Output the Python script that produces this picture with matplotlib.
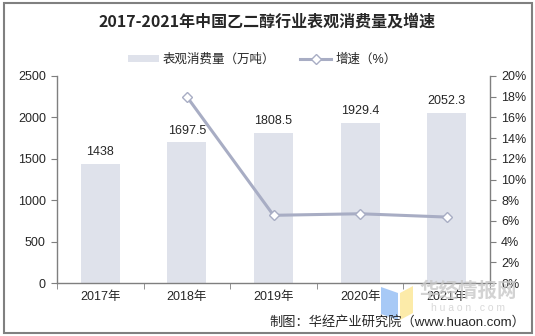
import matplotlib
matplotlib.use("Agg")
import matplotlib.pyplot as plt
from matplotlib.patches import Rectangle, Polygon
from matplotlib.lines import Line2D
from matplotlib.patches import Patch

plt.rcParams['font.family'] = ['Liberation Sans', 'Noto Sans CJK SC', 'DejaVu Sans']

categories = ['2017年', '2018年', '2019年', '2020年', '2021年']
consumption = [1438, 1697.5, 1808.5, 1929.4, 2052.3]
consumption_labels = ['1438', '1697.5', '1808.5', '1929.4', '2052.3']
growth_years = ['2018年', '2019年', '2020年', '2021年']
growth = [18.0, 6.54, 6.69, 6.37]

bar_color = '#DFE2EB'
line_color = '#A8ADC4'
text_color = '#262626'

W, H = 535, 336
fig = plt.figure(figsize=(W / 100, H / 100), dpi=100)
ax = fig.add_axes([57 / W, (H - 283) / H, (490 - 57) / W, (283 - 76) / H])
ax2 = ax.twinx()

x = list(range(len(categories)))
ax.bar(x, consumption, width=0.45, color=bar_color, zorder=1)
for xi, v, lab in zip(x, consumption, consumption_labels):
    ax.text(xi, v + 70, lab, ha='center', va='bottom', fontsize=9, color=text_color)

gx = [categories.index(c) for c in growth_years]
ax2.plot(gx, growth, color=line_color, lw=2.2, marker='D', markersize=5.5,
         markerfacecolor='white', markeredgecolor=line_color, markeredgewidth=1,
         zorder=3)

ax.set_xlim(-0.5, len(categories) - 0.5)
ax.set_ylim(0, 2500)
ax.set_yticks(range(0, 2501, 500))
ax2.set_ylim(0, 20)
ax2.set_yticks(range(0, 21, 2))
ax2.set_yticklabels([f'{v}%' for v in range(0, 21, 2)])

ax.set_xticks(x)
ax.set_xticklabels(categories)
ax.set_xticks([i - 0.5 for i in range(len(categories) + 1)], minor=True)
ax.tick_params(axis='x', which='major', length=0, pad=6, labelsize=9, labelcolor=text_color)
ax.tick_params(axis='x', which='minor', length=4, color='#7f7f7f', direction='out')
ax.tick_params(axis='y', length=4, color='#7f7f7f', labelsize=9, labelcolor=text_color, pad=4)
ax2.tick_params(axis='y', length=4, color='#7f7f7f', labelsize=9, labelcolor=text_color, pad=4)

for a in (ax, ax2):
    a.spines['top'].set_visible(False)
    for s in ('left', 'right', 'bottom'):
        a.spines[s].set_color('#7f7f7f')
        a.spines[s].set_linewidth(1)
ax.spines['right'].set_visible(False)
ax2.spines['left'].set_visible(False)
ax2.spines['bottom'].set_visible(False)
ax.set_zorder(ax2.get_zorder() - 1)
ax2.patch.set_visible(False)

fig.text(0.5, (H - 22) / H, '2017-2021年中国乙二醇行业表观消费量及增速', ha='center', va='center',
         fontsize=11.5, fontweight='bold', color=text_color,
         family=['Noto Sans CJK SC', 'DejaVu Sans'])

handles = [Patch(facecolor=bar_color, edgecolor='none'),
           Line2D([0], [0], color=line_color, lw=2.2, marker='D', markersize=5,
                  markerfacecolor='white', markeredgecolor=line_color)]
fig.legend(handles, ['表观消费量（万吨）', '增速（%）'], loc='center',
           bbox_to_anchor=(262 / W, (H - 60) / H), ncol=2, frameon=False,
           fontsize=9, handlelength=2.5, handleheight=0.5, columnspacing=2.0,
           handletextpad=0.3, labelcolor=text_color)

# watermark logo
fig.patches.append(Polygon([(381 / W, (H - 287) / H), (398 / W, (H - 293) / H),
                            (398 / W, (H - 320) / H), (381 / W, (H - 314) / H)],
                           closed=True, transform=fig.transFigure,
                           facecolor='#9EC3F5', edgecolor='none', alpha=0.9, zorder=5))
fig.patches.append(Polygon([(400 / W, (H - 293) / H), (413 / W, (H - 286) / H),
                            (413 / W, (H - 313) / H), (400 / W, (H - 320) / H)],
                           closed=True, transform=fig.transFigure,
                           facecolor='#FCE9A0', edgecolor='none', alpha=0.9, zorder=5))
fig.text(468 / W, (H - 291) / H, '华经情报网', ha='center', va='center', fontsize=14,
         fontweight='bold', color='#c8c8c8', alpha=0.8, zorder=5,
         family=['Noto Sans CJK SC'])
fig.text(468 / W, (H - 308) / H, 'h u a o n . c o m', ha='center', va='center', fontsize=7.5,
         color='#d0d0d0', alpha=0.8, zorder=5)

fig.text(525 / W, (H - 322) / H, '制图：华经产业研究院（www.huaon.com）', ha='right', va='center',
         fontsize=9.5, color=text_color, zorder=6)

fig.patches.append(Rectangle((4 / W, 3 / H), (532 - 4) / W, (333 - 3) / H,
                             transform=fig.transFigure, fill=False,
                             edgecolor='#808080', linewidth=1.5, zorder=10))

fig.savefig('out.png', dpi=100)
